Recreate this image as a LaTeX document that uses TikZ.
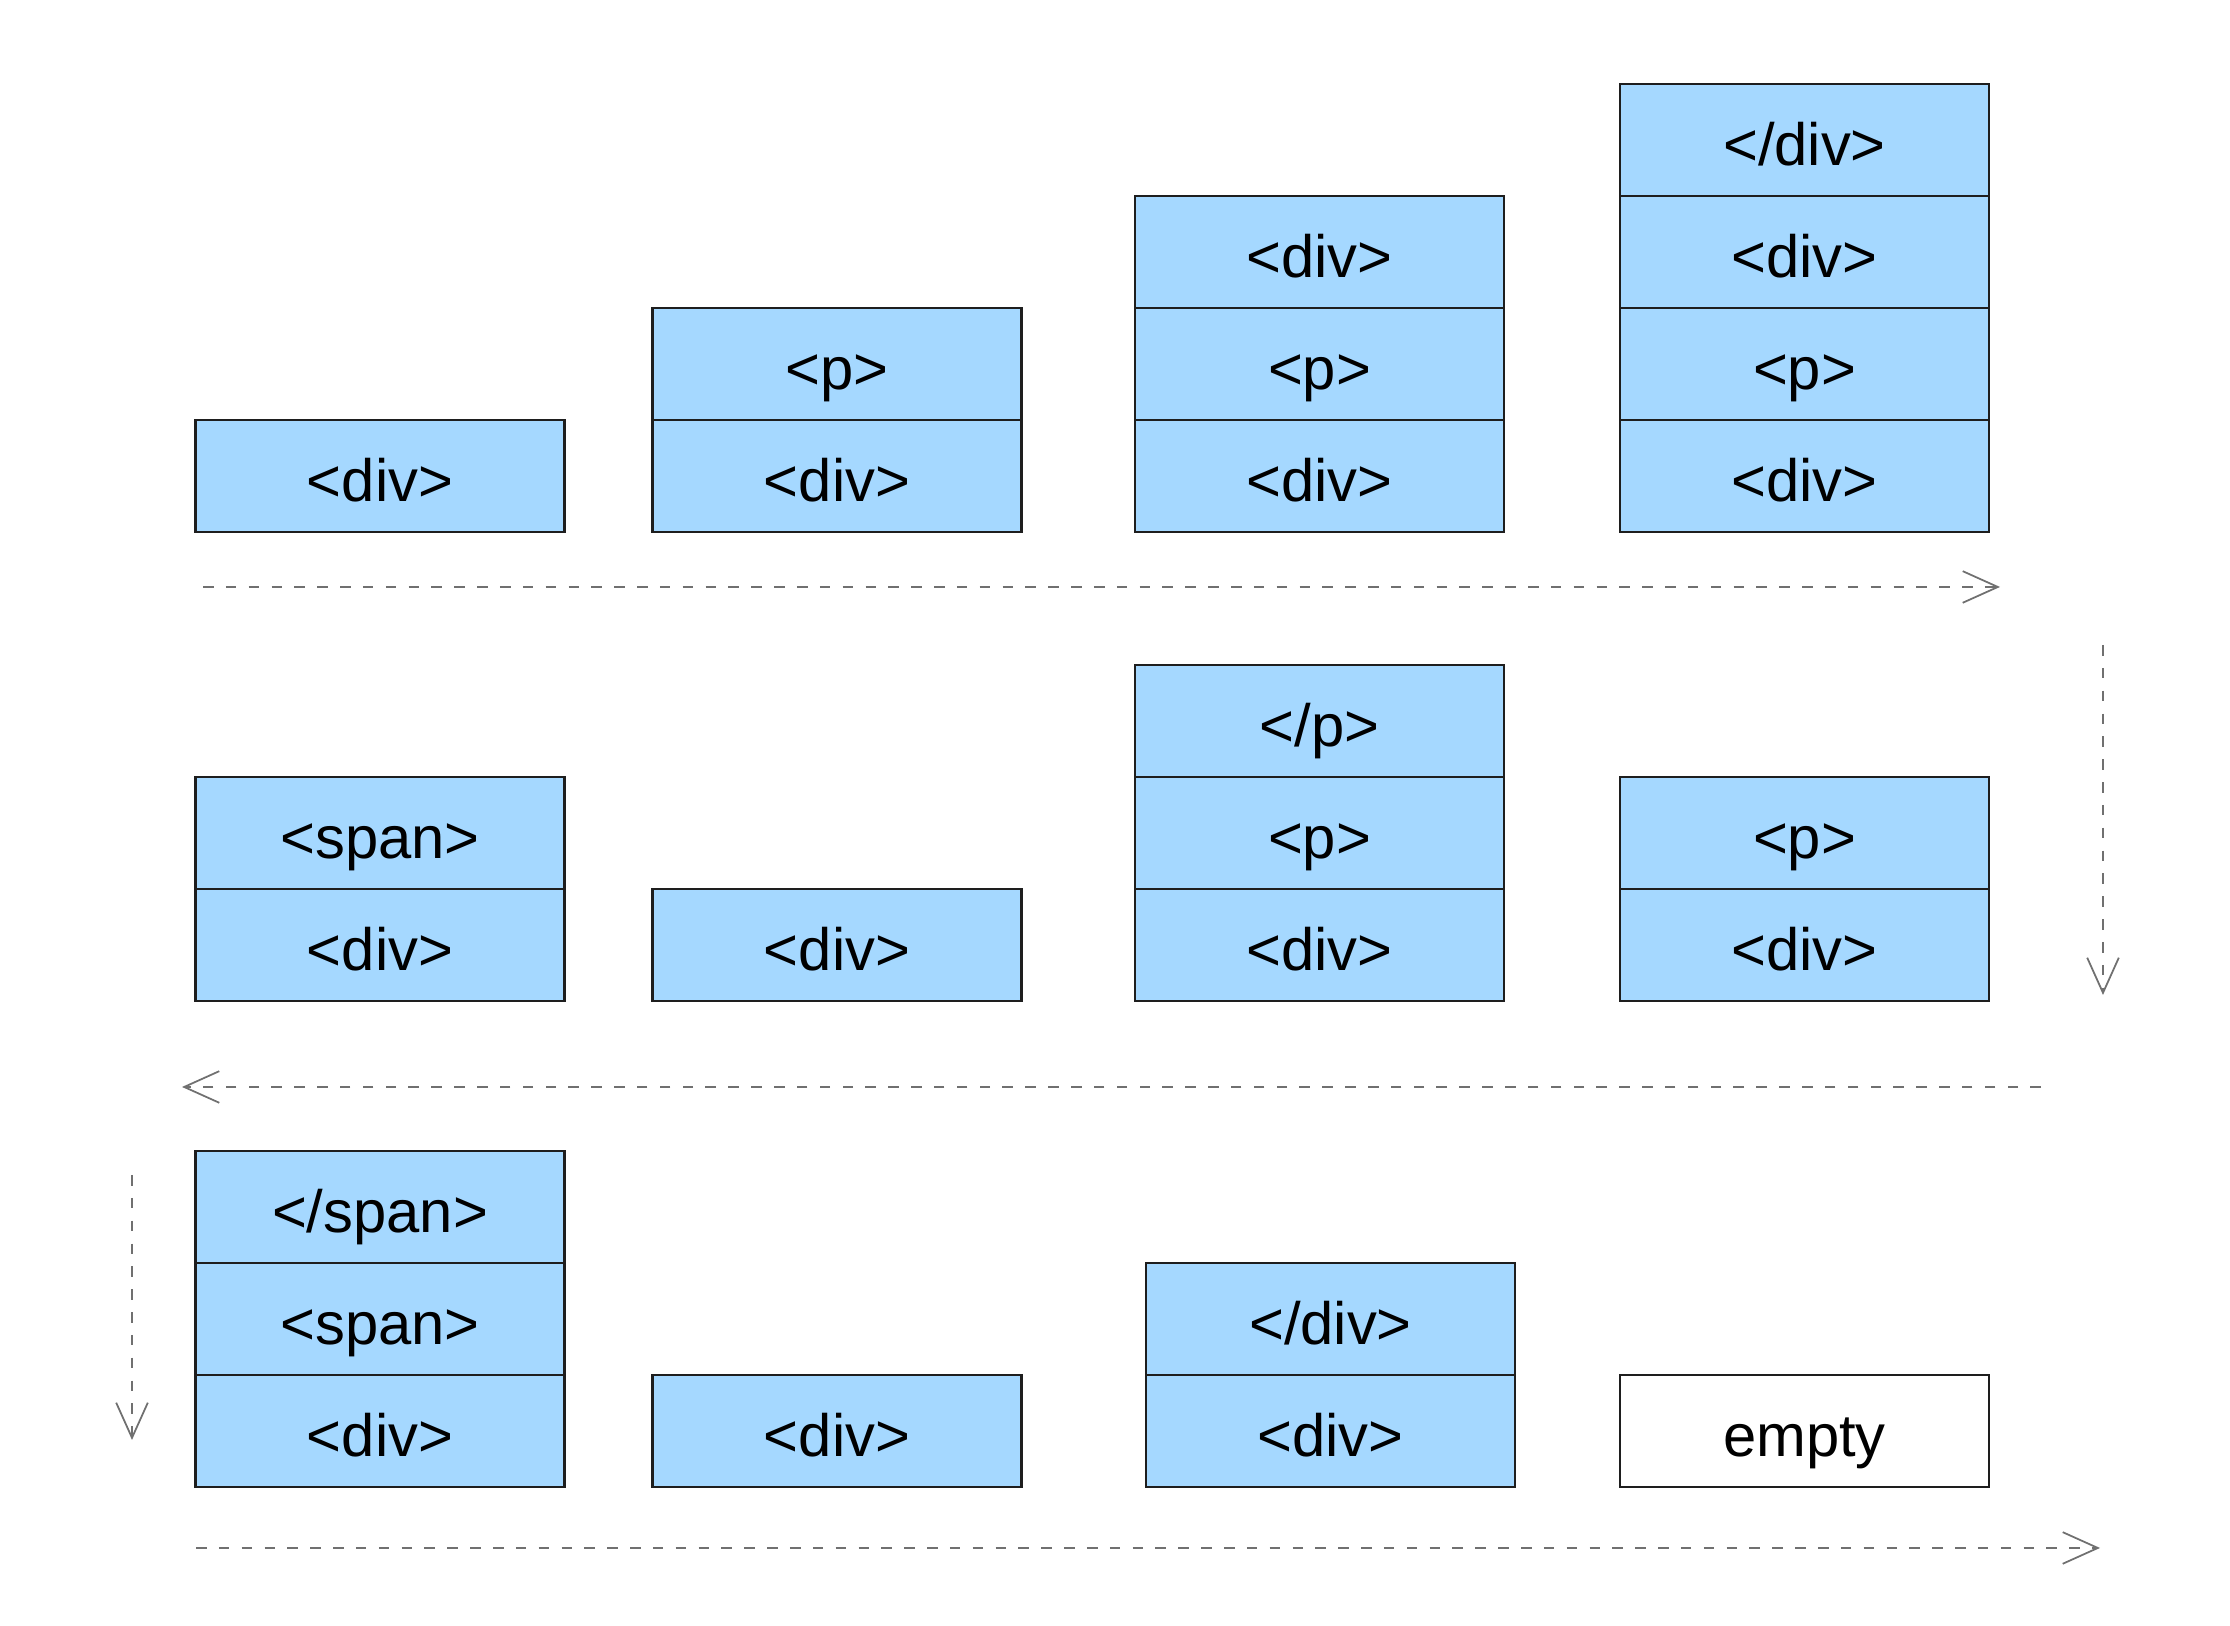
\documentclass[tikz,border=0pt]{standalone}
\usepackage{fontspec}
\setmainfont{Liberation Sans}
\usepackage{tikz}
\usetikzlibrary{arrows.meta, positioning}

\definecolor{cellblue}{HTML}{A5D8FF}
\definecolor{edgegray}{HTML}{1E1E1E}
\definecolor{flowgray}{HTML}{707070}

\begin{document}
\begin{tikzpicture}[
    node distance=0pt,
    tag/.style={draw=edgegray, line width=0.6pt, fill=cellblue, outer sep=0pt, inner sep=0pt,
        minimum width=3.69cm, minimum height=1.12cm, text height=16pt, text depth=1.5pt,
        font=\fontsize{17}{20}\selectfont},
    emptytag/.style={tag, fill=white},
    flow/.style={draw=flowgray, line width=0.5pt, dash pattern=on 3pt off 3.5pt,
        -{Straight Barb[length=10pt, width=9pt]}}
]
\useasboundingbox (0,0) rectangle (22.30,16.26);

% row 1
\node[tag] (s1a) at (3.80,11.50) {<div>};

\node[tag] (s2a) at (8.37,11.50) {<div>};
\node[tag, above=of s2a] (s2b) {<p>};

\node[tag] (s3a) at (13.195,11.50) {<div>};
\node[tag, above=of s3a] (s3b) {<p>};
\node[tag, above=of s3b] (s3c) {<div>};

\node[tag] (s4a) at (18.045,11.50) {<div>};
\node[tag, above=of s4a] (s4b) {<p>};
\node[tag, above=of s4b] (s4c) {<div>};
\node[tag, above=of s4c] (s4d) {</div>};

% row 2
\node[tag] (s5a) at (3.80,6.81) {<div>};
\node[tag, above=of s5a] (s5b) {<span>};

\node[tag] (s6a) at (8.37,6.81) {<div>};

\node[tag] (s7a) at (13.195,6.81) {<div>};
\node[tag, above=of s7a] (s7b) {<p>};
\node[tag, above=of s7b] (s7c) {</p>};

\node[tag] (s8a) at (18.045,6.81) {<div>};
\node[tag, above=of s8a] (s8b) {<p>};

% row 3
\node[tag] (s9a) at (3.80,1.95) {<div>};
\node[tag, above=of s9a] (s9b) {<span>};
\node[tag, above=of s9b] (s9c) {</span>};

\node[tag] (s10a) at (8.37,1.95) {<div>};

\node[tag] (s11a) at (13.305,1.95) {<div>};
\node[tag, above=of s11a] (s11b) {</div>};

\node[emptytag] (s12a) at (18.045,1.95) {empty};

% reading direction
\coordinate (f1s) at (2.03,10.39);
\coordinate (f1e) at (20.00,10.39);
\coordinate (f2s) at (21.03,9.81);
\coordinate (f2e) at (21.03,6.31);
\coordinate (f3s) at (20.41,5.39);
\coordinate (f3e) at (1.82,5.39);
\coordinate (f4s) at (1.32,4.51);
\coordinate (f4e) at (1.32,1.86);
\coordinate (f5s) at (1.96,0.78);
\coordinate (f5e) at (21.00,0.78);

\draw[flow] (f1s) -- (f1e);
\draw[flow] (f2s) -- (f2e);
\draw[flow] (f3s) -- (f3e);
\draw[flow] (f4s) -- (f4e);
\draw[flow] (f5s) -- (f5e);
\end{tikzpicture}
\end{document}
